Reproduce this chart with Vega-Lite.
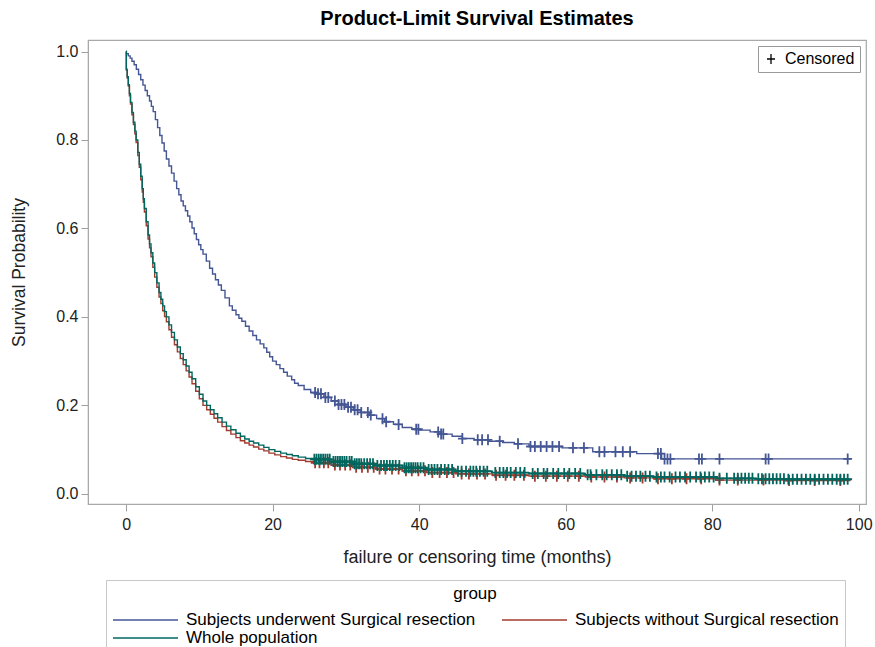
{
"$schema":"https://vega.github.io/schema/vega-lite/v6.json",
"width":778,"height":464,
"autosize":"none",
"padding":{"left":88,"top":40,"right":9,"bottom":143},
"background":"white",
"config":{"font":"Liberation Sans","view":{"stroke":"#a8a8a8","strokeWidth":1.2}},
"title":{"text":"Product-Limit Survival Estimates","fontSize":20,"fontWeight":"bold","color":"#000","anchor":"middle","offset":11},
"datasets":{
"curve":[
{"group":"Subjects underwent Surgical resection","time":0,"survival":1.0},
{"group":"Subjects underwent Surgical resection","time":0.05,"survival":0.995},
{"group":"Subjects underwent Surgical resection","time":0.3,"survival":0.99},
{"group":"Subjects underwent Surgical resection","time":0.55,"survival":0.985},
{"group":"Subjects underwent Surgical resection","time":0.8,"survival":0.978},
{"group":"Subjects underwent Surgical resection","time":1.1,"survival":0.97},
{"group":"Subjects underwent Surgical resection","time":1.4,"survival":0.96},
{"group":"Subjects underwent Surgical resection","time":1.7,"survival":0.948},
{"group":"Subjects underwent Surgical resection","time":2.0,"survival":0.936},
{"group":"Subjects underwent Surgical resection","time":2.3,"survival":0.924},
{"group":"Subjects underwent Surgical resection","time":2.6,"survival":0.912},
{"group":"Subjects underwent Surgical resection","time":2.9,"survival":0.9},
{"group":"Subjects underwent Surgical resection","time":3.2,"survival":0.888},
{"group":"Subjects underwent Surgical resection","time":3.45,"survival":0.876},
{"group":"Subjects underwent Surgical resection","time":3.7,"survival":0.864},
{"group":"Subjects underwent Surgical resection","time":4.0,"survival":0.846},
{"group":"Subjects underwent Surgical resection","time":4.3,"survival":0.828},
{"group":"Subjects underwent Surgical resection","time":4.6,"survival":0.81},
{"group":"Subjects underwent Surgical resection","time":4.9,"survival":0.793},
{"group":"Subjects underwent Surgical resection","time":5.2,"survival":0.775},
{"group":"Subjects underwent Surgical resection","time":5.5,"survival":0.757},
{"group":"Subjects underwent Surgical resection","time":5.85,"survival":0.741},
{"group":"Subjects underwent Surgical resection","time":6.2,"survival":0.725},
{"group":"Subjects underwent Surgical resection","time":6.55,"survival":0.707},
{"group":"Subjects underwent Surgical resection","time":6.9,"survival":0.69},
{"group":"Subjects underwent Surgical resection","time":7.2,"survival":0.676},
{"group":"Subjects underwent Surgical resection","time":7.5,"survival":0.662},
{"group":"Subjects underwent Surgical resection","time":7.8,"survival":0.651},
{"group":"Subjects underwent Surgical resection","time":8.1,"survival":0.64},
{"group":"Subjects underwent Surgical resection","time":8.4,"survival":0.628},
{"group":"Subjects underwent Surgical resection","time":8.7,"survival":0.615},
{"group":"Subjects underwent Surgical resection","time":9.0,"survival":0.601},
{"group":"Subjects underwent Surgical resection","time":9.3,"survival":0.588},
{"group":"Subjects underwent Surgical resection","time":9.6,"survival":0.575},
{"group":"Subjects underwent Surgical resection","time":9.9,"survival":0.563},
{"group":"Subjects underwent Surgical resection","time":10.2,"survival":0.552},
{"group":"Subjects underwent Surgical resection","time":10.5,"survival":0.542},
{"group":"Subjects underwent Surgical resection","time":10.95,"survival":0.526},
{"group":"Subjects underwent Surgical resection","time":11.4,"survival":0.51},
{"group":"Subjects underwent Surgical resection","time":11.8,"survival":0.497},
{"group":"Subjects underwent Surgical resection","time":12.2,"survival":0.484},
{"group":"Subjects underwent Surgical resection","time":12.6,"survival":0.472},
{"group":"Subjects underwent Surgical resection","time":13.0,"survival":0.46},
{"group":"Subjects underwent Surgical resection","time":13.5,"survival":0.443},
{"group":"Subjects underwent Surgical resection","time":14.1,"survival":0.425},
{"group":"Subjects underwent Surgical resection","time":14.5,"survival":0.415},
{"group":"Subjects underwent Surgical resection","time":15.0,"survival":0.405},
{"group":"Subjects underwent Surgical resection","time":15.4,"survival":0.397},
{"group":"Subjects underwent Surgical resection","time":15.8,"survival":0.39},
{"group":"Subjects underwent Surgical resection","time":16.3,"survival":0.379},
{"group":"Subjects underwent Surgical resection","time":16.8,"survival":0.368},
{"group":"Subjects underwent Surgical resection","time":17.3,"survival":0.358},
{"group":"Subjects underwent Surgical resection","time":17.8,"survival":0.348},
{"group":"Subjects underwent Surgical resection","time":18.3,"survival":0.339},
{"group":"Subjects underwent Surgical resection","time":18.8,"survival":0.33},
{"group":"Subjects underwent Surgical resection","time":19.2,"survival":0.32},
{"group":"Subjects underwent Surgical resection","time":19.6,"survival":0.31},
{"group":"Subjects underwent Surgical resection","time":20.0,"survival":0.3},
{"group":"Subjects underwent Surgical resection","time":20.5,"survival":0.292},
{"group":"Subjects underwent Surgical resection","time":21.0,"survival":0.283},
{"group":"Subjects underwent Surgical resection","time":21.5,"survival":0.275},
{"group":"Subjects underwent Surgical resection","time":22.0,"survival":0.266},
{"group":"Subjects underwent Surgical resection","time":22.6,"survival":0.258},
{"group":"Subjects underwent Surgical resection","time":23.0,"survival":0.25},
{"group":"Subjects underwent Surgical resection","time":23.5,"survival":0.245},
{"group":"Subjects underwent Surgical resection","time":24.3,"survival":0.236},
{"group":"Subjects underwent Surgical resection","time":25.2,"survival":0.229},
{"group":"Subjects underwent Surgical resection","time":26.0,"survival":0.226},
{"group":"Subjects underwent Surgical resection","time":27.0,"survival":0.218},
{"group":"Subjects underwent Surgical resection","time":28.0,"survival":0.21},
{"group":"Subjects underwent Surgical resection","time":29.0,"survival":0.202},
{"group":"Subjects underwent Surgical resection","time":30.0,"survival":0.196},
{"group":"Subjects underwent Surgical resection","time":31.0,"survival":0.19},
{"group":"Subjects underwent Surgical resection","time":32.0,"survival":0.184},
{"group":"Subjects underwent Surgical resection","time":33.2,"survival":0.178},
{"group":"Subjects underwent Surgical resection","time":34.2,"survival":0.17},
{"group":"Subjects underwent Surgical resection","time":35.3,"survival":0.163},
{"group":"Subjects underwent Surgical resection","time":36.5,"survival":0.157},
{"group":"Subjects underwent Surgical resection","time":37.7,"survival":0.15},
{"group":"Subjects underwent Surgical resection","time":39.0,"survival":0.146},
{"group":"Subjects underwent Surgical resection","time":40.0,"survival":0.144},
{"group":"Subjects underwent Surgical resection","time":41.5,"survival":0.14},
{"group":"Subjects underwent Surgical resection","time":43.0,"survival":0.135},
{"group":"Subjects underwent Surgical resection","time":44.5,"survival":0.13},
{"group":"Subjects underwent Surgical resection","time":45.9,"survival":0.125},
{"group":"Subjects underwent Surgical resection","time":47.5,"survival":0.122},
{"group":"Subjects underwent Surgical resection","time":49.5,"survival":0.119},
{"group":"Subjects underwent Surgical resection","time":51.4,"survival":0.116},
{"group":"Subjects underwent Surgical resection","time":53.0,"survival":0.113},
{"group":"Subjects underwent Surgical resection","time":55.0,"survival":0.107},
{"group":"Subjects underwent Surgical resection","time":59.5,"survival":0.104},
{"group":"Subjects underwent Surgical resection","time":63.7,"survival":0.095},
{"group":"Subjects underwent Surgical resection","time":69.7,"survival":0.091},
{"group":"Subjects underwent Surgical resection","time":73.1,"survival":0.079},
{"group":"Subjects underwent Surgical resection","time":98.9,"survival":0.079},
{"group":"Subjects without Surgical resection","time":0,"survival":1.0},
{"group":"Subjects without Surgical resection","time":0.03,"survival":0.958},
{"group":"Subjects without Surgical resection","time":0.15,"survival":0.94},
{"group":"Subjects without Surgical resection","time":0.3,"survival":0.922},
{"group":"Subjects without Surgical resection","time":0.45,"survival":0.9},
{"group":"Subjects without Surgical resection","time":0.6,"survival":0.881},
{"group":"Subjects without Surgical resection","time":0.8,"survival":0.857},
{"group":"Subjects without Surgical resection","time":1.0,"survival":0.835},
{"group":"Subjects without Surgical resection","time":1.2,"survival":0.814},
{"group":"Subjects without Surgical resection","time":1.37,"survival":0.794},
{"group":"Subjects without Surgical resection","time":1.6,"survival":0.765},
{"group":"Subjects without Surgical resection","time":1.8,"survival":0.738},
{"group":"Subjects without Surgical resection","time":2.0,"survival":0.71},
{"group":"Subjects without Surgical resection","time":2.2,"survival":0.682},
{"group":"Subjects without Surgical resection","time":2.35,"survival":0.659},
{"group":"Subjects without Surgical resection","time":2.5,"survival":0.637},
{"group":"Subjects without Surgical resection","time":2.75,"survival":0.606},
{"group":"Subjects without Surgical resection","time":3.0,"survival":0.576},
{"group":"Subjects without Surgical resection","time":3.2,"survival":0.556},
{"group":"Subjects without Surgical resection","time":3.4,"survival":0.536},
{"group":"Subjects without Surgical resection","time":3.65,"survival":0.512},
{"group":"Subjects without Surgical resection","time":3.9,"survival":0.49},
{"group":"Subjects without Surgical resection","time":4.2,"survival":0.467},
{"group":"Subjects without Surgical resection","time":4.5,"survival":0.445},
{"group":"Subjects without Surgical resection","time":4.75,"survival":0.43},
{"group":"Subjects without Surgical resection","time":5.0,"survival":0.414},
{"group":"Subjects without Surgical resection","time":5.25,"survival":0.401},
{"group":"Subjects without Surgical resection","time":5.5,"survival":0.389},
{"group":"Subjects without Surgical resection","time":5.85,"survival":0.371},
{"group":"Subjects without Surgical resection","time":6.2,"survival":0.354},
{"group":"Subjects without Surgical resection","time":6.6,"survival":0.337},
{"group":"Subjects without Surgical resection","time":7.0,"survival":0.321},
{"group":"Subjects without Surgical resection","time":7.4,"survival":0.306},
{"group":"Subjects without Surgical resection","time":7.8,"survival":0.292},
{"group":"Subjects without Surgical resection","time":8.2,"survival":0.278},
{"group":"Subjects without Surgical resection","time":8.6,"survival":0.264},
{"group":"Subjects without Surgical resection","time":9.0,"survival":0.249},
{"group":"Subjects without Surgical resection","time":9.5,"survival":0.232},
{"group":"Subjects without Surgical resection","time":10.0,"survival":0.215},
{"group":"Subjects without Surgical resection","time":10.5,"survival":0.2},
{"group":"Subjects without Surgical resection","time":11.0,"survival":0.19},
{"group":"Subjects without Surgical resection","time":11.5,"survival":0.18},
{"group":"Subjects without Surgical resection","time":12.0,"survival":0.171},
{"group":"Subjects without Surgical resection","time":12.5,"survival":0.162},
{"group":"Subjects without Surgical resection","time":13.1,"survival":0.152},
{"group":"Subjects without Surgical resection","time":13.7,"survival":0.143},
{"group":"Subjects without Surgical resection","time":14.3,"survival":0.135},
{"group":"Subjects without Surgical resection","time":15.0,"survival":0.127},
{"group":"Subjects without Surgical resection","time":15.6,"survival":0.12},
{"group":"Subjects without Surgical resection","time":16.2,"survival":0.115},
{"group":"Subjects without Surgical resection","time":16.8,"survival":0.11},
{"group":"Subjects without Surgical resection","time":17.4,"survival":0.106},
{"group":"Subjects without Surgical resection","time":18.1,"survival":0.101},
{"group":"Subjects without Surgical resection","time":18.8,"survival":0.097},
{"group":"Subjects without Surgical resection","time":19.5,"survival":0.092},
{"group":"Subjects without Surgical resection","time":20.3,"survival":0.088},
{"group":"Subjects without Surgical resection","time":21.1,"survival":0.084},
{"group":"Subjects without Surgical resection","time":21.9,"survival":0.081},
{"group":"Subjects without Surgical resection","time":22.7,"survival":0.078},
{"group":"Subjects without Surgical resection","time":23.5,"survival":0.076},
{"group":"Subjects without Surgical resection","time":24.5,"survival":0.073},
{"group":"Subjects without Surgical resection","time":25.6,"survival":0.07},
{"group":"Subjects without Surgical resection","time":28,"survival":0.065},
{"group":"Subjects without Surgical resection","time":31,"survival":0.06},
{"group":"Subjects without Surgical resection","time":34,"survival":0.056},
{"group":"Subjects without Surgical resection","time":37.7,"survival":0.052},
{"group":"Subjects without Surgical resection","time":41,"survival":0.048},
{"group":"Subjects without Surgical resection","time":45,"survival":0.045},
{"group":"Subjects without Surgical resection","time":50,"survival":0.042},
{"group":"Subjects without Surgical resection","time":55,"survival":0.04},
{"group":"Subjects without Surgical resection","time":62.7,"survival":0.038},
{"group":"Subjects without Surgical resection","time":68,"survival":0.036},
{"group":"Subjects without Surgical resection","time":72,"survival":0.034},
{"group":"Subjects without Surgical resection","time":80.5,"survival":0.031},
{"group":"Subjects without Surgical resection","time":90,"survival":0.03},
{"group":"Subjects without Surgical resection","time":98.9,"survival":0.03},
{"group":"Whole population","time":0,"survival":1.0},
{"group":"Whole population","time":0.03,"survival":0.96},
{"group":"Whole population","time":0.15,"survival":0.943},
{"group":"Whole population","time":0.3,"survival":0.925},
{"group":"Whole population","time":0.45,"survival":0.905},
{"group":"Whole population","time":0.6,"survival":0.885},
{"group":"Whole population","time":0.8,"survival":0.862},
{"group":"Whole population","time":1.0,"survival":0.84},
{"group":"Whole population","time":1.2,"survival":0.82},
{"group":"Whole population","time":1.37,"survival":0.8},
{"group":"Whole population","time":1.6,"survival":0.772},
{"group":"Whole population","time":1.8,"survival":0.745},
{"group":"Whole population","time":2.0,"survival":0.718},
{"group":"Whole population","time":2.2,"survival":0.69},
{"group":"Whole population","time":2.35,"survival":0.667},
{"group":"Whole population","time":2.5,"survival":0.645},
{"group":"Whole population","time":2.75,"survival":0.615},
{"group":"Whole population","time":3.0,"survival":0.585},
{"group":"Whole population","time":3.2,"survival":0.565},
{"group":"Whole population","time":3.4,"survival":0.545},
{"group":"Whole population","time":3.65,"survival":0.522},
{"group":"Whole population","time":3.9,"survival":0.5},
{"group":"Whole population","time":4.2,"survival":0.477},
{"group":"Whole population","time":4.5,"survival":0.455},
{"group":"Whole population","time":4.75,"survival":0.44},
{"group":"Whole population","time":5.0,"survival":0.425},
{"group":"Whole population","time":5.25,"survival":0.412},
{"group":"Whole population","time":5.5,"survival":0.4},
{"group":"Whole population","time":5.85,"survival":0.382},
{"group":"Whole population","time":6.2,"survival":0.365},
{"group":"Whole population","time":6.6,"survival":0.348},
{"group":"Whole population","time":7.0,"survival":0.332},
{"group":"Whole population","time":7.4,"survival":0.317},
{"group":"Whole population","time":7.8,"survival":0.303},
{"group":"Whole population","time":8.2,"survival":0.289},
{"group":"Whole population","time":8.6,"survival":0.275},
{"group":"Whole population","time":9.0,"survival":0.26},
{"group":"Whole population","time":9.5,"survival":0.242},
{"group":"Whole population","time":10.0,"survival":0.225},
{"group":"Whole population","time":10.5,"survival":0.21},
{"group":"Whole population","time":11.0,"survival":0.2},
{"group":"Whole population","time":11.5,"survival":0.19},
{"group":"Whole population","time":12.0,"survival":0.181},
{"group":"Whole population","time":12.5,"survival":0.172},
{"group":"Whole population","time":13.1,"survival":0.162},
{"group":"Whole population","time":13.7,"survival":0.153},
{"group":"Whole population","time":14.3,"survival":0.145},
{"group":"Whole population","time":15.0,"survival":0.137},
{"group":"Whole population","time":15.6,"survival":0.13},
{"group":"Whole population","time":16.2,"survival":0.124},
{"group":"Whole population","time":16.8,"survival":0.119},
{"group":"Whole population","time":17.4,"survival":0.115},
{"group":"Whole population","time":18.1,"survival":0.11},
{"group":"Whole population","time":18.8,"survival":0.105},
{"group":"Whole population","time":19.5,"survival":0.1},
{"group":"Whole population","time":20.3,"survival":0.096},
{"group":"Whole population","time":21.1,"survival":0.092},
{"group":"Whole population","time":21.9,"survival":0.089},
{"group":"Whole population","time":22.7,"survival":0.086},
{"group":"Whole population","time":23.5,"survival":0.083},
{"group":"Whole population","time":24.5,"survival":0.08},
{"group":"Whole population","time":25.6,"survival":0.078},
{"group":"Whole population","time":28,"survival":0.073},
{"group":"Whole population","time":31,"survival":0.068},
{"group":"Whole population","time":34,"survival":0.064},
{"group":"Whole population","time":37.7,"survival":0.059},
{"group":"Whole population","time":41,"survival":0.055},
{"group":"Whole population","time":45,"survival":0.051},
{"group":"Whole population","time":50,"survival":0.048},
{"group":"Whole population","time":55,"survival":0.046},
{"group":"Whole population","time":62.7,"survival":0.043},
{"group":"Whole population","time":68,"survival":0.04},
{"group":"Whole population","time":72,"survival":0.038},
{"group":"Whole population","time":80.5,"survival":0.035},
{"group":"Whole population","time":86,"survival":0.034},
{"group":"Whole population","time":90,"survival":0.033},
{"group":"Whole population","time":98.9,"survival":0.033}
],
"censor":[
{"group":"Subjects without Surgical resection","time":25.8,"survival":0.07},
{"group":"Subjects without Surgical resection","time":26.4,"survival":0.07},
{"group":"Subjects without Surgical resection","time":27.0,"survival":0.07},
{"group":"Subjects without Surgical resection","time":27.6,"survival":0.07},
{"group":"Subjects without Surgical resection","time":28.5,"survival":0.065},
{"group":"Subjects without Surgical resection","time":29.2,"survival":0.065},
{"group":"Subjects without Surgical resection","time":29.9,"survival":0.065},
{"group":"Subjects without Surgical resection","time":30.6,"survival":0.065},
{"group":"Subjects without Surgical resection","time":31.4,"survival":0.06},
{"group":"Subjects without Surgical resection","time":32.2,"survival":0.06},
{"group":"Subjects without Surgical resection","time":33.0,"survival":0.06},
{"group":"Subjects without Surgical resection","time":33.8,"survival":0.06},
{"group":"Subjects without Surgical resection","time":34.6,"survival":0.056},
{"group":"Subjects without Surgical resection","time":35.4,"survival":0.056},
{"group":"Subjects without Surgical resection","time":36.3,"survival":0.056},
{"group":"Subjects without Surgical resection","time":37.2,"survival":0.056},
{"group":"Subjects without Surgical resection","time":38.2,"survival":0.052},
{"group":"Subjects without Surgical resection","time":39.0,"survival":0.052},
{"group":"Subjects without Surgical resection","time":39.9,"survival":0.052},
{"group":"Subjects without Surgical resection","time":40.8,"survival":0.052},
{"group":"Subjects without Surgical resection","time":41.8,"survival":0.048},
{"group":"Subjects without Surgical resection","time":42.8,"survival":0.048},
{"group":"Subjects without Surgical resection","time":43.8,"survival":0.048},
{"group":"Subjects without Surgical resection","time":44.7,"survival":0.048},
{"group":"Subjects without Surgical resection","time":45.8,"survival":0.045},
{"group":"Subjects without Surgical resection","time":46.8,"survival":0.045},
{"group":"Subjects without Surgical resection","time":47.9,"survival":0.045},
{"group":"Subjects without Surgical resection","time":49.0,"survival":0.045},
{"group":"Subjects without Surgical resection","time":50.5,"survival":0.042},
{"group":"Subjects without Surgical resection","time":51.8,"survival":0.042},
{"group":"Subjects without Surgical resection","time":53.0,"survival":0.042},
{"group":"Subjects without Surgical resection","time":54.3,"survival":0.042},
{"group":"Subjects without Surgical resection","time":55.8,"survival":0.04},
{"group":"Subjects without Surgical resection","time":57.3,"survival":0.04},
{"group":"Subjects without Surgical resection","time":58.8,"survival":0.04},
{"group":"Subjects without Surgical resection","time":60.3,"survival":0.04},
{"group":"Subjects without Surgical resection","time":61.8,"survival":0.04},
{"group":"Subjects without Surgical resection","time":63.5,"survival":0.038},
{"group":"Subjects without Surgical resection","time":65.3,"survival":0.038},
{"group":"Subjects without Surgical resection","time":67.0,"survival":0.038},
{"group":"Subjects without Surgical resection","time":68.8,"survival":0.036},
{"group":"Subjects without Surgical resection","time":70.5,"survival":0.036},
{"group":"Subjects without Surgical resection","time":72.6,"survival":0.034},
{"group":"Subjects without Surgical resection","time":74.5,"survival":0.034},
{"group":"Subjects without Surgical resection","time":76.5,"survival":0.034},
{"group":"Subjects without Surgical resection","time":78.5,"survival":0.034},
{"group":"Subjects without Surgical resection","time":81.0,"survival":0.031},
{"group":"Subjects without Surgical resection","time":83.5,"survival":0.031},
{"group":"Subjects without Surgical resection","time":87.0,"survival":0.031},
{"group":"Subjects without Surgical resection","time":90.5,"survival":0.03},
{"group":"Subjects without Surgical resection","time":94.0,"survival":0.03},
{"group":"Subjects without Surgical resection","time":97.5,"survival":0.03},
{"group":"Whole population","time":25.7,"survival":0.078},
{"group":"Whole population","time":26.0,"survival":0.078},
{"group":"Whole population","time":26.3,"survival":0.078},
{"group":"Whole population","time":26.6,"survival":0.078},
{"group":"Whole population","time":26.9,"survival":0.078},
{"group":"Whole population","time":27.2,"survival":0.078},
{"group":"Whole population","time":27.5,"survival":0.078},
{"group":"Whole population","time":27.8,"survival":0.078},
{"group":"Whole population","time":28.3,"survival":0.073},
{"group":"Whole population","time":28.6,"survival":0.073},
{"group":"Whole population","time":28.9,"survival":0.073},
{"group":"Whole population","time":29.2,"survival":0.073},
{"group":"Whole population","time":29.5,"survival":0.073},
{"group":"Whole population","time":29.8,"survival":0.073},
{"group":"Whole population","time":30.1,"survival":0.073},
{"group":"Whole population","time":30.5,"survival":0.073},
{"group":"Whole population","time":30.8,"survival":0.073},
{"group":"Whole population","time":31.2,"survival":0.068},
{"group":"Whole population","time":31.5,"survival":0.068},
{"group":"Whole population","time":31.8,"survival":0.068},
{"group":"Whole population","time":32.1,"survival":0.068},
{"group":"Whole population","time":32.5,"survival":0.068},
{"group":"Whole population","time":32.9,"survival":0.068},
{"group":"Whole population","time":33.3,"survival":0.068},
{"group":"Whole population","time":33.7,"survival":0.068},
{"group":"Whole population","time":34.3,"survival":0.064},
{"group":"Whole population","time":34.8,"survival":0.064},
{"group":"Whole population","time":35.2,"survival":0.064},
{"group":"Whole population","time":35.6,"survival":0.064},
{"group":"Whole population","time":36.0,"survival":0.064},
{"group":"Whole population","time":36.4,"survival":0.064},
{"group":"Whole population","time":36.8,"survival":0.064},
{"group":"Whole population","time":37.3,"survival":0.064},
{"group":"Whole population","time":38.0,"survival":0.059},
{"group":"Whole population","time":38.3,"survival":0.059},
{"group":"Whole population","time":38.6,"survival":0.059},
{"group":"Whole population","time":38.9,"survival":0.059},
{"group":"Whole population","time":39.2,"survival":0.059},
{"group":"Whole population","time":39.5,"survival":0.059},
{"group":"Whole population","time":39.8,"survival":0.059},
{"group":"Whole population","time":40.2,"survival":0.059},
{"group":"Whole population","time":40.6,"survival":0.059},
{"group":"Whole population","time":41.3,"survival":0.055},
{"group":"Whole population","time":41.7,"survival":0.055},
{"group":"Whole population","time":42.1,"survival":0.055},
{"group":"Whole population","time":42.5,"survival":0.055},
{"group":"Whole population","time":43.0,"survival":0.055},
{"group":"Whole population","time":43.5,"survival":0.055},
{"group":"Whole population","time":44.0,"survival":0.055},
{"group":"Whole population","time":44.5,"survival":0.055},
{"group":"Whole population","time":45.3,"survival":0.051},
{"group":"Whole population","time":45.8,"survival":0.051},
{"group":"Whole population","time":46.4,"survival":0.051},
{"group":"Whole population","time":47.0,"survival":0.051},
{"group":"Whole population","time":47.4,"survival":0.051},
{"group":"Whole population","time":47.8,"survival":0.051},
{"group":"Whole population","time":48.3,"survival":0.051},
{"group":"Whole population","time":48.8,"survival":0.051},
{"group":"Whole population","time":49.3,"survival":0.051},
{"group":"Whole population","time":50.4,"survival":0.048},
{"group":"Whole population","time":51.0,"survival":0.048},
{"group":"Whole population","time":51.5,"survival":0.048},
{"group":"Whole population","time":52.0,"survival":0.048},
{"group":"Whole population","time":52.5,"survival":0.048},
{"group":"Whole population","time":53.2,"survival":0.048},
{"group":"Whole population","time":53.8,"survival":0.048},
{"group":"Whole population","time":54.4,"survival":0.048},
{"group":"Whole population","time":55.5,"survival":0.046},
{"group":"Whole population","time":56.2,"survival":0.046},
{"group":"Whole population","time":57.0,"survival":0.046},
{"group":"Whole population","time":57.5,"survival":0.046},
{"group":"Whole population","time":58.3,"survival":0.046},
{"group":"Whole population","time":59.0,"survival":0.046},
{"group":"Whole population","time":59.8,"survival":0.046},
{"group":"Whole population","time":60.5,"survival":0.046},
{"group":"Whole population","time":61.3,"survival":0.046},
{"group":"Whole population","time":62.0,"survival":0.046},
{"group":"Whole population","time":63.0,"survival":0.043},
{"group":"Whole population","time":63.4,"survival":0.043},
{"group":"Whole population","time":64.2,"survival":0.043},
{"group":"Whole population","time":65.0,"survival":0.043},
{"group":"Whole population","time":65.6,"survival":0.043},
{"group":"Whole population","time":66.3,"survival":0.043},
{"group":"Whole population","time":67.0,"survival":0.043},
{"group":"Whole population","time":67.6,"survival":0.043},
{"group":"Whole population","time":68.4,"survival":0.04},
{"group":"Whole population","time":69.0,"survival":0.04},
{"group":"Whole population","time":69.6,"survival":0.04},
{"group":"Whole population","time":70.2,"survival":0.04},
{"group":"Whole population","time":70.9,"survival":0.04},
{"group":"Whole population","time":71.5,"survival":0.04},
{"group":"Whole population","time":72.4,"survival":0.038},
{"group":"Whole population","time":73.0,"survival":0.038},
{"group":"Whole population","time":73.5,"survival":0.038},
{"group":"Whole population","time":74.2,"survival":0.038},
{"group":"Whole population","time":75.0,"survival":0.038},
{"group":"Whole population","time":75.6,"survival":0.038},
{"group":"Whole population","time":76.3,"survival":0.038},
{"group":"Whole population","time":77.0,"survival":0.038},
{"group":"Whole population","time":77.8,"survival":0.038},
{"group":"Whole population","time":78.4,"survival":0.038},
{"group":"Whole population","time":79.0,"survival":0.038},
{"group":"Whole population","time":79.6,"survival":0.038},
{"group":"Whole population","time":80.2,"survival":0.038},
{"group":"Whole population","time":81.0,"survival":0.035},
{"group":"Whole population","time":82.0,"survival":0.035},
{"group":"Whole population","time":83.0,"survival":0.035},
{"group":"Whole population","time":83.5,"survival":0.035},
{"group":"Whole population","time":84.0,"survival":0.035},
{"group":"Whole population","time":84.5,"survival":0.035},
{"group":"Whole population","time":85.0,"survival":0.035},
{"group":"Whole population","time":85.5,"survival":0.035},
{"group":"Whole population","time":86.3,"survival":0.034},
{"group":"Whole population","time":86.8,"survival":0.034},
{"group":"Whole population","time":87.3,"survival":0.034},
{"group":"Whole population","time":87.8,"survival":0.034},
{"group":"Whole population","time":88.3,"survival":0.034},
{"group":"Whole population","time":88.8,"survival":0.034},
{"group":"Whole population","time":89.3,"survival":0.034},
{"group":"Whole population","time":89.8,"survival":0.034},
{"group":"Whole population","time":90.4,"survival":0.033},
{"group":"Whole population","time":91.0,"survival":0.033},
{"group":"Whole population","time":91.6,"survival":0.033},
{"group":"Whole population","time":92.2,"survival":0.033},
{"group":"Whole population","time":92.8,"survival":0.033},
{"group":"Whole population","time":93.4,"survival":0.033},
{"group":"Whole population","time":94.0,"survival":0.033},
{"group":"Whole population","time":94.6,"survival":0.033},
{"group":"Whole population","time":95.2,"survival":0.033},
{"group":"Whole population","time":95.8,"survival":0.033},
{"group":"Whole population","time":96.4,"survival":0.033},
{"group":"Whole population","time":97.0,"survival":0.033},
{"group":"Whole population","time":97.5,"survival":0.033},
{"group":"Whole population","time":98.0,"survival":0.033},
{"group":"Whole population","time":98.5,"survival":0.033},
{"group":"Subjects underwent Surgical resection","time":25.8,"survival":0.229},
{"group":"Subjects underwent Surgical resection","time":26.2,"survival":0.226},
{"group":"Subjects underwent Surgical resection","time":26.6,"survival":0.226},
{"group":"Subjects underwent Surgical resection","time":27.2,"survival":0.218},
{"group":"Subjects underwent Surgical resection","time":27.6,"survival":0.218},
{"group":"Subjects underwent Surgical resection","time":28.5,"survival":0.21},
{"group":"Subjects underwent Surgical resection","time":29.0,"survival":0.202},
{"group":"Subjects underwent Surgical resection","time":29.4,"survival":0.202},
{"group":"Subjects underwent Surgical resection","time":29.8,"survival":0.202},
{"group":"Subjects underwent Surgical resection","time":30.3,"survival":0.196},
{"group":"Subjects underwent Surgical resection","time":30.7,"survival":0.196},
{"group":"Subjects underwent Surgical resection","time":31.2,"survival":0.19},
{"group":"Subjects underwent Surgical resection","time":31.6,"survival":0.19},
{"group":"Subjects underwent Surgical resection","time":32.1,"survival":0.184},
{"group":"Subjects underwent Surgical resection","time":33.0,"survival":0.184},
{"group":"Subjects underwent Surgical resection","time":33.4,"survival":0.178},
{"group":"Subjects underwent Surgical resection","time":35.0,"survival":0.17},
{"group":"Subjects underwent Surgical resection","time":35.5,"survival":0.163},
{"group":"Subjects underwent Surgical resection","time":37.2,"survival":0.157},
{"group":"Subjects underwent Surgical resection","time":39.6,"survival":0.146},
{"group":"Subjects underwent Surgical resection","time":39.9,"survival":0.146},
{"group":"Subjects underwent Surgical resection","time":42.6,"survival":0.14},
{"group":"Subjects underwent Surgical resection","time":43.0,"survival":0.135},
{"group":"Subjects underwent Surgical resection","time":43.3,"survival":0.135},
{"group":"Subjects underwent Surgical resection","time":45.9,"survival":0.125},
{"group":"Subjects underwent Surgical resection","time":48.0,"survival":0.122},
{"group":"Subjects underwent Surgical resection","time":48.6,"survival":0.122},
{"group":"Subjects underwent Surgical resection","time":49.4,"survival":0.122},
{"group":"Subjects underwent Surgical resection","time":51.0,"survival":0.119},
{"group":"Subjects underwent Surgical resection","time":53.5,"survival":0.113},
{"group":"Subjects underwent Surgical resection","time":55.2,"survival":0.107},
{"group":"Subjects underwent Surgical resection","time":55.8,"survival":0.107},
{"group":"Subjects underwent Surgical resection","time":56.6,"survival":0.107},
{"group":"Subjects underwent Surgical resection","time":57.4,"survival":0.107},
{"group":"Subjects underwent Surgical resection","time":58.2,"survival":0.107},
{"group":"Subjects underwent Surgical resection","time":59.1,"survival":0.107},
{"group":"Subjects underwent Surgical resection","time":61.0,"survival":0.104},
{"group":"Subjects underwent Surgical resection","time":62.5,"survival":0.104},
{"group":"Subjects underwent Surgical resection","time":64.6,"survival":0.095},
{"group":"Subjects underwent Surgical resection","time":65.3,"survival":0.095},
{"group":"Subjects underwent Surgical resection","time":66.8,"survival":0.095},
{"group":"Subjects underwent Surgical resection","time":67.8,"survival":0.095},
{"group":"Subjects underwent Surgical resection","time":68.8,"survival":0.095},
{"group":"Subjects underwent Surgical resection","time":72.6,"survival":0.091},
{"group":"Subjects underwent Surgical resection","time":73.0,"survival":0.091},
{"group":"Subjects underwent Surgical resection","time":73.5,"survival":0.079},
{"group":"Subjects underwent Surgical resection","time":73.9,"survival":0.079},
{"group":"Subjects underwent Surgical resection","time":74.3,"survival":0.079},
{"group":"Subjects underwent Surgical resection","time":78.2,"survival":0.079},
{"group":"Subjects underwent Surgical resection","time":78.6,"survival":0.079},
{"group":"Subjects underwent Surgical resection","time":81.0,"survival":0.079},
{"group":"Subjects underwent Surgical resection","time":87.3,"survival":0.079},
{"group":"Subjects underwent Surgical resection","time":87.7,"survival":0.079},
{"group":"Subjects underwent Surgical resection","time":98.5,"survival":0.079}
]
},
"encoding":{
"x":{"field":"time","type":"quantitative","scale":{"domain":[-5.2,101],"nice":false,"zero":false},
"axis":{"title":"failure or censoring time (months)","values":[0,20,40,60,80,100],"grid":false,"tickSize":7,"tickColor":"#a0a0a0","domainColor":"#a8a8a8","labelFontSize":16,"titleFontSize":18,"titleFontWeight":"normal","labelColor":"#222","titleColor":"#222","labelPadding":5,"titlePadding":16,"labelFlush":false}},
"y":{"field":"survival","type":"quantitative","scale":{"domain":[-0.023,1.026],"nice":false,"zero":false},
"axis":{"title":"Survival Probability","values":[0,0.2,0.4,0.6,0.8,1.0],"format":".1f","grid":false,"tickSize":7,"tickColor":"#a0a0a0","domainColor":"#a8a8a8","labelFontSize":16,"titleFontSize":17.5,"titleFontWeight":"normal","labelColor":"#222","titleColor":"#222","labelPadding":3,"titlePadding":27}}
},
"layer":[
{"data":{"name":"curve"},
"mark":{"type":"line","interpolate":"step-after","strokeWidth":1.4},
"encoding":{"color":{"field":"group","type":"nominal",
"scale":{"domain":["Subjects underwent Surgical resection","Subjects without Surgical resection","Whole population"],"range":["#445694","#A23A2E","#01665E"]},
"legend":{"title":"group","orient":"none","legendX":18,"legendY":540,"direction":"horizontal","columns":2,"symbolType":"M-1,0H7.125","symbolSize":256,"symbolStrokeWidth":1.5,"labelFontSize":17,"labelColor":"#000","labelOffset":56,"labelLimit":500,"titleFontSize":17,"titleFontWeight":"normal","titleColor":"#000","titleAnchor":"middle","columnPadding":23,"rowPadding":1,"padding":6,"strokeColor":"#c8c8c8","titlePadding":8}}}},
{"data":{"name":"censor"},
"mark":{"type":"point","filled":false,"strokeWidth":1.8,"size":121,"opacity":1},
"encoding":{"color":{"field":"group","type":"nominal","legend":null},
"shape":{"datum":"Censored","scale":{"range":["M-0.8,0H0.8M0,-1V1"]},
"legend":{"title":null,"orient":"top-right","offset":6,"padding":5,"strokeColor":"#999","labelFontSize":16,"labelColor":"#000","symbolSize":100,"symbolStrokeColor":"#000","symbolStrokeWidth":1.3,"symbolFillColor":"transparent","labelOffset":6}}}}
]
}
